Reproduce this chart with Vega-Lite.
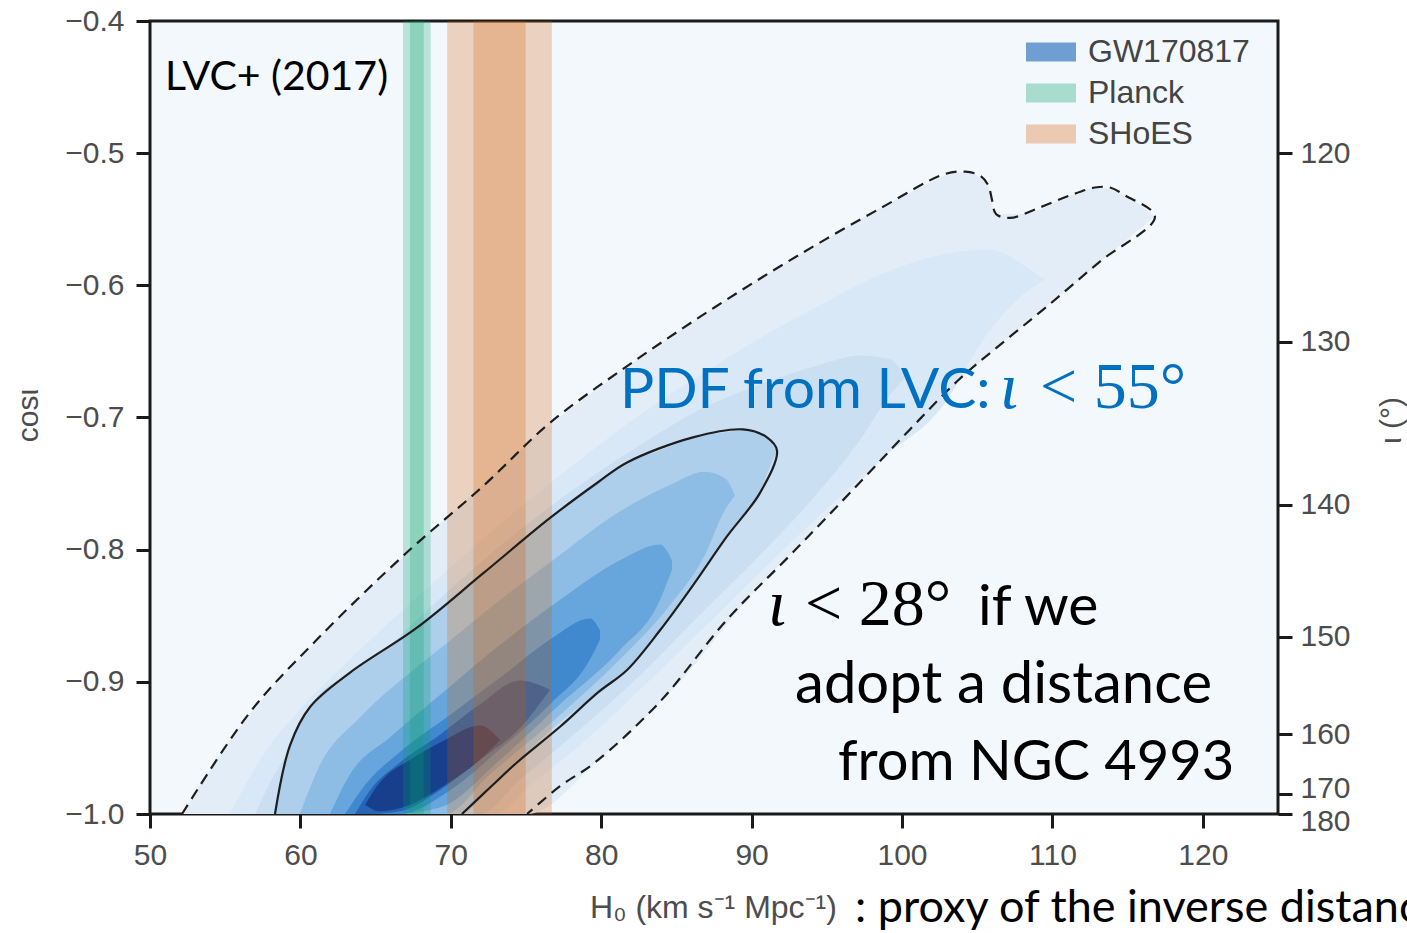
{
  "$schema": "https://vega.github.io/schema/vega-lite/v6.json",
  "width": 1128,
  "height": 793,
  "autosize": {"type": "none"},
  "padding": {"left": 150, "top": 21, "right": 129, "bottom": 119},
  "background": "white",
  "config": {
    "view": {"fill": "#f3f8fd", "stroke": "#1a1a1a", "strokeWidth": 3},
    "axis": {
      "labelFont": "Liberation Sans", "labelFontSize": 30, "labelColor": "#4d4d4d",
      "tickColor": "#1a1a1a", "tickWidth": 3, "tickSize": 14, "domain": false, "grid": false,
      "labelPadding": 8, "labelOverlap": false, "labelFlush": false,
      "titleFont": "Liberation Sans", "titleFontSize": 30, "titleFontWeight": "normal", "titleColor": "#4d4d4d"
    }
  },
  "data": {"values": [{}]},
  "datasets": {
    "density": [
      {"level": 1, "x": 52.13, "lo": -1.0, "hi": -1.0},
      {"level": 1, "x": 56, "lo": -1.0, "hi": -0.934},
      {"level": 1, "x": 60, "lo": -1.0, "hi": -0.882},
      {"level": 1, "x": 65, "lo": -1.0, "hi": -0.825},
      {"level": 1, "x": 70, "lo": -1.0, "hi": -0.773},
      {"level": 1, "x": 75.07, "lo": -1.0, "hi": -0.72},
      {"level": 1, "x": 80, "lo": -0.957, "hi": -0.676},
      {"level": 1, "x": 85, "lo": -0.903, "hi": -0.636},
      {"level": 1, "x": 90, "lo": -0.834, "hi": -0.599},
      {"level": 1, "x": 95, "lo": -0.775, "hi": -0.565},
      {"level": 1, "x": 100, "lo": -0.716, "hi": -0.533},
      {"level": 1, "x": 104.2, "lo": -0.667, "hi": -0.514},
      {"level": 1, "x": 105.7, "lo": -0.653, "hi": -0.524},
      {"level": 1, "x": 106.2, "lo": -0.648, "hi": -0.546},
      {"level": 1, "x": 108, "lo": -0.631, "hi": -0.546},
      {"level": 1, "x": 111, "lo": -0.603, "hi": -0.533},
      {"level": 1, "x": 113, "lo": -0.584, "hi": -0.526},
      {"level": 1, "x": 115, "lo": -0.565, "hi": -0.533},
      {"level": 1, "x": 116.8, "lo": -0.548, "hi": -0.548},

      {"level": 2, "x": 55.32, "lo": -1.0, "hi": -1.0},
      {"level": 2, "x": 57.31, "lo": -1.0, "hi": -0.959},
      {"level": 2, "x": 59.97, "lo": -1.0, "hi": -0.921},
      {"level": 2, "x": 63.3, "lo": -1.0, "hi": -0.883},
      {"level": 2, "x": 67.95, "lo": -1.0, "hi": -0.834},
      {"level": 2, "x": 72.94, "lo": -1.0, "hi": -0.784},
      {"level": 2, "x": 75.27, "lo": -0.978, "hi": -0.762},
      {"level": 2, "x": 78.59, "lo": -0.948, "hi": -0.732},
      {"level": 2, "x": 82.58, "lo": -0.906, "hi": -0.698},
      {"level": 2, "x": 86.57, "lo": -0.862, "hi": -0.668},
      {"level": 2, "x": 90.56, "lo": -0.817, "hi": -0.64},
      {"level": 2, "x": 94.55, "lo": -0.774, "hi": -0.615},
      {"level": 2, "x": 98.54, "lo": -0.732, "hi": -0.592},
      {"level": 2, "x": 102.53, "lo": -0.694, "hi": -0.577},
      {"level": 2, "x": 105.85, "lo": -0.634, "hi": -0.573},
      {"level": 2, "x": 108.51, "lo": -0.603, "hi": -0.588},
      {"level": 2, "x": 109.51, "lo": -0.596, "hi": -0.596},

      {"level": 3, "x": 56.98, "lo": -1.0, "hi": -1.0},
      {"level": 3, "x": 58.64, "lo": -1.0, "hi": -0.963},
      {"level": 3, "x": 61.3, "lo": -1.0, "hi": -0.927},
      {"level": 3, "x": 65.29, "lo": -1.0, "hi": -0.88},
      {"level": 3, "x": 69.95, "lo": -1.0, "hi": -0.83},
      {"level": 3, "x": 71.94, "lo": -1.0, "hi": -0.81},
      {"level": 3, "x": 74.6, "lo": -0.974, "hi": -0.785},
      {"level": 3, "x": 78.59, "lo": -0.936, "hi": -0.751},
      {"level": 3, "x": 82.58, "lo": -0.895, "hi": -0.721},
      {"level": 3, "x": 86.57, "lo": -0.849, "hi": -0.694},
      {"level": 3, "x": 90.56, "lo": -0.804, "hi": -0.675},
      {"level": 3, "x": 94.55, "lo": -0.755, "hi": -0.66},
      {"level": 3, "x": 97.21, "lo": -0.717, "hi": -0.653},
      {"level": 3, "x": 99.2, "lo": -0.683, "hi": -0.656},
      {"level": 3, "x": 100.2, "lo": -0.67, "hi": -0.67},

      {"level": 4, "x": 58.31, "lo": -1.0, "hi": -1.0},
      {"level": 4, "x": 59.31, "lo": -1.0, "hi": -0.948},
      {"level": 4, "x": 60.64, "lo": -1.0, "hi": -0.919},
      {"level": 4, "x": 63.3, "lo": -1.0, "hi": -0.893},
      {"level": 4, "x": 67.75, "lo": -1.0, "hi": -0.859},
      {"level": 4, "x": 70.74, "lo": -1.0, "hi": -0.832},
      {"level": 4, "x": 72.14, "lo": -0.986, "hi": -0.818},
      {"level": 4, "x": 74.4, "lo": -0.961, "hi": -0.797},
      {"level": 4, "x": 76.6, "lo": -0.937, "hi": -0.776},
      {"level": 4, "x": 79.79, "lo": -0.908, "hi": -0.749},
      {"level": 4, "x": 81.72, "lo": -0.891, "hi": -0.734},
      {"level": 4, "x": 83.91, "lo": -0.861, "hi": -0.725},
      {"level": 4, "x": 86.1, "lo": -0.827, "hi": -0.715},
      {"level": 4, "x": 88.36, "lo": -0.79, "hi": -0.711},
      {"level": 4, "x": 89.43, "lo": -0.774, "hi": -0.709},
      {"level": 4, "x": 90.56, "lo": -0.757, "hi": -0.712},
      {"level": 4, "x": 91.02, "lo": -0.743, "hi": -0.715},
      {"level": 4, "x": 91.69, "lo": -0.725, "hi": -0.725},

      {"level": 5, "x": 59.97, "lo": -1.0, "hi": -1.0},
      {"level": 5, "x": 61.3, "lo": -1.0, "hi": -0.963},
      {"level": 5, "x": 63.96, "lo": -1.0, "hi": -0.927},
      {"level": 5, "x": 67.95, "lo": -1.0, "hi": -0.887},
      {"level": 5, "x": 69.61, "lo": -1.0, "hi": -0.872},
      {"level": 5, "x": 72.61, "lo": -0.97, "hi": -0.844},
      {"level": 5, "x": 77.26, "lo": -0.925, "hi": -0.804},
      {"level": 5, "x": 81.25, "lo": -0.883, "hi": -0.771},
      {"level": 5, "x": 84.57, "lo": -0.842, "hi": -0.751},
      {"level": 5, "x": 86.9, "lo": -0.804, "hi": -0.741},
      {"level": 5, "x": 88.23, "lo": -0.77, "hi": -0.746},
      {"level": 5, "x": 88.9, "lo": -0.759, "hi": -0.759},

      {"level": 6, "x": 61.97, "lo": -1.0, "hi": -1.0},
      {"level": 6, "x": 63.3, "lo": -1.0, "hi": -0.97},
      {"level": 6, "x": 65.96, "lo": -1.0, "hi": -0.942},
      {"level": 6, "x": 69.28, "lo": -0.995, "hi": -0.91},
      {"level": 6, "x": 73.27, "lo": -0.959, "hi": -0.872},
      {"level": 6, "x": 77.26, "lo": -0.917, "hi": -0.838},
      {"level": 6, "x": 81.25, "lo": -0.876, "hi": -0.808},
      {"level": 6, "x": 83.91, "lo": -0.838, "hi": -0.796},
      {"level": 6, "x": 84.71, "lo": -0.815, "hi": -0.808},

      {"level": 7, "x": 62.97, "lo": -1.0, "hi": -1.0},
      {"level": 7, "x": 64.3, "lo": -1.0, "hi": -0.978},
      {"level": 7, "x": 66.62, "lo": -1.0, "hi": -0.953},
      {"level": 7, "x": 69.95, "lo": -0.982, "hi": -0.925},
      {"level": 7, "x": 73.27, "lo": -0.951, "hi": -0.897},
      {"level": 7, "x": 76.6, "lo": -0.917, "hi": -0.868},
      {"level": 7, "x": 79.26, "lo": -0.883, "hi": -0.852},
      {"level": 7, "x": 79.92, "lo": -0.868, "hi": -0.861},

      {"level": 8, "x": 63.63, "lo": -1.0, "hi": -1.0},
      {"level": 8, "x": 64.63, "lo": -1.0, "hi": -0.982},
      {"level": 8, "x": 66.62, "lo": -0.998, "hi": -0.961},
      {"level": 8, "x": 69.28, "lo": -0.982, "hi": -0.94},
      {"level": 8, "x": 71.94, "lo": -0.959, "hi": -0.917},
      {"level": 8, "x": 74.6, "lo": -0.935, "hi": -0.899},
      {"level": 8, "x": 76.6, "lo": -0.906, "hi": -0.906},

      {"level": 9, "x": 64.3, "lo": -0.993, "hi": -0.993},
      {"level": 9, "x": 65.29, "lo": -0.998, "hi": -0.976},
      {"level": 9, "x": 67.29, "lo": -0.993, "hi": -0.959},
      {"level": 9, "x": 69.61, "lo": -0.978, "hi": -0.944},
      {"level": 9, "x": 71.94, "lo": -0.959, "hi": -0.933},
      {"level": 9, "x": 73.27, "lo": -0.944, "hi": -0.944}
    ],
    "dashed": [
      {"o": 1, "x": 52.13, "y": -1.0},
      {"o": 2, "x": 56.65, "y": -0.923},
      {"o": 3, "x": 61.1, "y": -0.868},
      {"o": 4, "x": 67.09, "y": -0.802},
      {"o": 5, "x": 72.14, "y": -0.752},
      {"o": 6, "x": 76.6, "y": -0.704},
      {"o": 7, "x": 82.12, "y": -0.658},
      {"o": 8, "x": 87.63, "y": -0.616},
      {"o": 9, "x": 93.15, "y": -0.577},
      {"o": 10, "x": 98.67, "y": -0.541},
      {"o": 11, "x": 102.79, "y": -0.516},
      {"o": 12, "x": 104.19, "y": -0.514},
      {"o": 13, "x": 105.19, "y": -0.517},
      {"o": 14, "x": 105.72, "y": -0.524},
      {"o": 15, "x": 105.98, "y": -0.535},
      {"o": 16, "x": 106.25, "y": -0.546},
      {"o": 17, "x": 107.18, "y": -0.549},
      {"o": 18, "x": 109.18, "y": -0.541},
      {"o": 19, "x": 111.17, "y": -0.532},
      {"o": 20, "x": 112.83, "y": -0.526},
      {"o": 21, "x": 113.83, "y": -0.526},
      {"o": 22, "x": 114.83, "y": -0.532},
      {"o": 23, "x": 116.82, "y": -0.548},
      {"o": 24, "x": 113.16, "y": -0.582},
      {"o": 25, "x": 109.64, "y": -0.616},
      {"o": 26, "x": 106.52, "y": -0.645},
      {"o": 27, "x": 103.72, "y": -0.672},
      {"o": 28, "x": 100.53, "y": -0.709},
      {"o": 29, "x": 97.21, "y": -0.749},
      {"o": 30, "x": 92.75, "y": -0.802},
      {"o": 31, "x": 88.36, "y": -0.853},
      {"o": 32, "x": 83.91, "y": -0.915},
      {"o": 33, "x": 79.59, "y": -0.961},
      {"o": 34, "x": 77.26, "y": -0.979},
      {"o": 35, "x": 75.07, "y": -1.0}
    ],
    "solid": [
      {"o": 1, "x": 58.31, "y": -1.0},
      {"o": 2, "x": 59.31, "y": -0.948},
      {"o": 3, "x": 60.64, "y": -0.919},
      {"o": 4, "x": 63.3, "y": -0.893},
      {"o": 5, "x": 67.75, "y": -0.859},
      {"o": 6, "x": 72.14, "y": -0.818},
      {"o": 7, "x": 76.6, "y": -0.776},
      {"o": 8, "x": 79.79, "y": -0.749},
      {"o": 9, "x": 81.72, "y": -0.734},
      {"o": 10, "x": 86.1, "y": -0.715},
      {"o": 11, "x": 89.43, "y": -0.709},
      {"o": 12, "x": 91.02, "y": -0.715},
      {"o": 13, "x": 91.69, "y": -0.725},
      {"o": 14, "x": 90.56, "y": -0.757},
      {"o": 15, "x": 88.36, "y": -0.79},
      {"o": 16, "x": 86.1, "y": -0.827},
      {"o": 17, "x": 83.91, "y": -0.861},
      {"o": 18, "x": 81.72, "y": -0.891},
      {"o": 19, "x": 79.79, "y": -0.908},
      {"o": 20, "x": 77.26, "y": -0.934},
      {"o": 21, "x": 74.4, "y": -0.961},
      {"o": 22, "x": 72.61, "y": -0.98},
      {"o": 23, "x": 70.74, "y": -1.0}
    ],
    "bands": [
      {"band": "Planck", "sigma": 2, "lo": 66.82, "hi": 68.66},
      {"band": "Planck", "sigma": 1, "lo": 67.28, "hi": 68.2},
      {"band": "SHoES", "sigma": 2, "lo": 69.76, "hi": 76.72},
      {"band": "SHoES", "sigma": 1, "lo": 71.5, "hi": 74.98}
    ],
    "legend": [
      {"name": "GW170817"},
      {"name": "Planck"},
      {"name": "SHoES"}
    ]
  },
  "layer": [
    {
      "data": {"name": "density"},
      "mark": {"type": "area", "interpolate": "monotone"},
      "encoding": {
        "x": {
          "field": "x", "type": "quantitative",
          "scale": {"domain": [50, 125], "nice": false, "zero": false},
          "axis": {
            "values": [50, 60, 70, 80, 90, 100, 110, 120], "format": "d", "labelPadding": 12,
            "title": "H₀ (km s⁻¹ Mpc⁻¹)", "titleX": 563, "titleY": 103, "titleFontSize": 32,
            "titleAlign": "center", "titleBaseline": "alphabetic", "titleAnchor": null
          }
        },
        "y": {
          "field": "lo", "type": "quantitative",
          "scale": {"domain": [-1.0, -0.4], "nice": false, "zero": false},
          "axis": {
            "values": [-1.0, -0.9, -0.8, -0.7, -0.6, -0.5, -0.4], "format": ".1f", "labelPadding": 12,
            "title": "cosι", "titleX": -113, "titleY": 394, "titleAngle": -90,
            "titleAlign": "center", "titleBaseline": "alphabetic"
          }
        },
        "y2": {"field": "hi"},
        "fill": {
          "field": "level", "type": "ordinal",
          "scale": {
            "domain": [1, 2, 3, 4, 5, 6, 7, 8, 9],
            "range": ["#e2edf8", "#d9e8f6", "#cadff2", "#aecfeb", "#8dbde4", "#66a6dc", "#4189cf", "#2764b5", "#173f8c"]
          },
          "legend": null
        }
      }
    },
    {
      "data": {"name": "bands"},
      "mark": {"type": "rect", "opacity": 0.24},
      "encoding": {
        "x": {"field": "lo", "type": "quantitative"},
        "x2": {"field": "hi"},
        "fill": {
          "field": "band", "type": "nominal",
          "scale": {"domain": ["Planck", "SHoES"], "range": ["#02a163", "#d25a00"]},
          "legend": null
        }
      }
    },
    {
      "data": {"name": "dashed"},
      "mark": {"type": "line", "interpolate": "catmull-rom", "stroke": "#1e1e1e", "strokeWidth": 2.2, "strokeDash": [11, 7]},
      "encoding": {
        "x": {"field": "x", "type": "quantitative"},
        "y": {"field": "y", "type": "quantitative", "axis": null},
        "order": {"field": "o", "type": "quantitative"}
      }
    },
    {
      "data": {"name": "solid"},
      "mark": {"type": "line", "interpolate": "catmull-rom", "stroke": "#1e1e1e", "strokeWidth": 2.2},
      "encoding": {
        "x": {"field": "x", "type": "quantitative"},
        "y": {"field": "y", "type": "quantitative", "axis": null},
        "order": {"field": "o", "type": "quantitative"}
      }
    },
    {
      "data": {"name": "legend"},
      "mark": {"type": "point", "shape": "square", "filled": true, "opacity": 0},
      "encoding": {
        "x": {"datum": 60, "type": "quantitative"},
        "y": {
          "datum": -0.7, "type": "quantitative",
          "axis": {
            "orient": "right",
            "values": [-0.5, -0.6428, -0.766, -0.866, -0.9397, -0.9848, -1.0],
            "labelExpr": "format(acos(datum.value)*180/PI, '.0f')",
            "labelOffset": {"condition": [{"test": "datum.value < -0.999", "value": 7}, {"test": "datum.value < -0.98", "value": -5}], "value": 0},
            "title": "ι (°)", "titleAngle": -90, "titleX": 122, "titleY": 399,
            "titleAlign": "center", "titleBaseline": "alphabetic"
          }
        },
        "color": {
          "field": "name", "type": "nominal",
          "scale": {"domain": ["GW170817", "Planck", "SHoES"], "range": ["#6f9fd2", "#a8dccd", "#ebc9b2"]},
          "legend": {
            "title": null, "orient": "none", "legendX": 876, "legendY": 6,
            "symbolType": "M-1,-0.38H1V0.38H-1Z", "symbolSize": 2500, "symbolOpacity": 1,
            "symbolStrokeWidth": 0, "labelFont": "Liberation Sans", "labelFontSize": 32, "labelLimit": 0,
            "labelColor": "#444444", "labelOffset": 12, "rowPadding": -4, "padding": 0
          }
        }
      }
    },
    {
      "mark": {"type": "text", "text": "LVC+ (2017)", "font": "Lato", "fontSize": 41, "align": "left", "baseline": "alphabetic", "color": "#000000"},
      "encoding": {"x": {"datum": 51.0, "type": "quantitative"}, "y": {"datum": -0.452, "type": "quantitative", "axis": null}}
    },
    {
      "mark": {"type": "text", "text": "PDF from LVC:", "font": "Lato", "fontSize": 57, "align": "left", "baseline": "alphabetic", "color": "#0070c0"},
      "encoding": {"x": {"datum": 81.25, "type": "quantitative"}, "y": {"datum": -0.6927, "type": "quantitative", "axis": null}}
    },
    {
      "mark": {"type": "text", "text": "ι", "font": "Liberation Serif", "fontStyle": "italic", "fontSize": 66, "align": "left", "baseline": "alphabetic", "color": "#0070c0"},
      "encoding": {"x": {"datum": 106.52, "type": "quantitative"}, "y": {"datum": -0.6927, "type": "quantitative", "axis": null}}
    },
    {
      "mark": {"type": "text", "text": "< 55°", "font": "Liberation Serif", "fontSize": 66, "align": "left", "baseline": "alphabetic", "color": "#0070c0"},
      "encoding": {"x": {"datum": 109.18, "type": "quantitative"}, "y": {"datum": -0.6927, "type": "quantitative", "axis": null}}
    },
    {
      "mark": {"type": "text", "text": "ι", "font": "Liberation Serif", "fontStyle": "italic", "fontSize": 66, "align": "left", "baseline": "alphabetic", "color": "#000000"},
      "encoding": {"x": {"datum": 91.09, "type": "quantitative"}, "y": {"datum": -0.857, "type": "quantitative", "axis": null}}
    },
    {
      "mark": {"type": "text", "text": "< 28°", "font": "Liberation Serif", "fontSize": 66, "align": "left", "baseline": "alphabetic", "color": "#000000"},
      "encoding": {"x": {"datum": 93.55, "type": "quantitative"}, "y": {"datum": -0.857, "type": "quantitative", "axis": null}}
    },
    {
      "mark": {"type": "text", "text": "if we", "font": "Lato", "fontSize": 57, "align": "left", "baseline": "alphabetic", "color": "#000000"},
      "encoding": {"x": {"datum": 105.05, "type": "quantitative"}, "y": {"datum": -0.857, "type": "quantitative", "axis": null}}
    },
    {
      "mark": {"type": "text", "text": "adopt a distance", "font": "Lato", "fontSize": 58, "align": "left", "baseline": "alphabetic", "color": "#000000"},
      "encoding": {"x": {"datum": 92.89, "type": "quantitative"}, "y": {"datum": -0.916, "type": "quantitative", "axis": null}}
    },
    {
      "mark": {"type": "text", "text": "from NGC 4993", "font": "Lato", "fontSize": 56, "align": "left", "baseline": "alphabetic", "color": "#000000"},
      "encoding": {"x": {"datum": 95.74, "type": "quantitative"}, "y": {"datum": -0.974, "type": "quantitative", "axis": null}}
    },
    {
      "mark": {"type": "text", "text": ": proxy of the inverse distance", "font": "Lato", "fontSize": 45, "align": "left", "baseline": "alphabetic", "color": "#000000"},
      "encoding": {"x": {"datum": 96.88, "type": "quantitative"}, "y": {"datum": -1.0815, "type": "quantitative", "axis": null}}
    }
  ],
  "resolve": {"scale": {"fill": "independent"}, "axis": {"y": "independent"}}
}
